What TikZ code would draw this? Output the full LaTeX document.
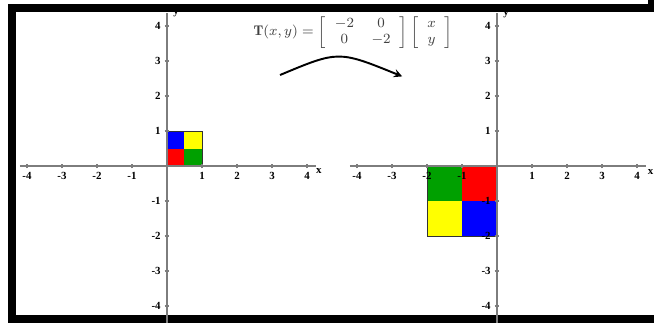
\documentclass[tikz,border=0pt]{standalone}
\usepackage{fontspec}
\newfontfamily\tickfont{Liberation Serif}
\definecolor{sqred}{RGB}{255,0,0}
\definecolor{sqgreen}{RGB}{0,160,0}
\definecolor{sqblue}{RGB}{0,0,255}
\definecolor{sqyellow}{RGB}{255,255,0}
\definecolor{axisgray}{RGB}{125,125,125}
\tikzset{
  axisline/.style={draw=axisgray, line width=0.6pt},
  ticklbl/.style={font=\tickfont\bfseries\fontsize{6.2}{7}\selectfont, inner sep=1pt},
  cellbox/.style={draw=black!80, line width=0.5pt},
}
\begin{document}
\begin{tikzpicture}[x=0.7cm, y=0.7cm, >=stealth]
  \useasboundingbox (-4.771,-4.457) rectangle (13.914,4.743);
  \clip (-4.771,-4.457) rectangle (13.914,4.743);
  % 外框
  \draw[line width=4.6pt, line join=miter] (14.5,4.526) -- (-4.4286,4.526) -- (-4.4286,-4.386) -- (14.5,-4.386);
  \fill (13.743,4.629) rectangle (14,4.8);

  % 原图：单位正方形
  \fill[sqred] (0,0) rectangle (0.5,0.5);
  \fill[sqgreen] (0.5,0) rectangle (1,0.5);
  \fill[sqblue] (0,0.5) rectangle (0.5,1);
  \fill[sqyellow] (0.5,0.5) rectangle (1,1);
  \draw[cellbox] (0,0) rectangle (1,1);

  \draw[axisline] (-4.2,0) -- (4.25,0);
  \draw[axisline] (0,4.37) -- (0,-4.6);
  \foreach \i in {-4,-3,-2,-1,1,2,3,4} {
    \draw[axisline] (\i,-0.07) -- (\i,0.07);
    \draw[axisline] (-0.07,\i) -- (0.07,\i);
    \node[ticklbl, anchor=north] (xl\i) at (\i,-0.12) {\i};
    \node[ticklbl, anchor=east] (yl\i) at (-0.12,\i) {\i};
  }
  \node[ticklbl, anchor=west] (xname) at (4.2,-0.14) {x};
  \node[ticklbl, anchor=west] (yname) at (0.12,4.36) {y};

  % 变换
  \node[text=black!75, font=\footnotesize] (formula) at (5.32,3.82)
    {$\mathbf{T}(x,y)=\left[\begin{array}{cc}-2&0\\0&-2\end{array}\right]\left[\begin{array}{c}x\\y\end{array}\right]$};
  \coordinate (arrS) at (3.23,2.6);
  \coordinate (arrE) at (6.72,2.56);
  \draw[->, line width=1.1pt] (arrS) .. controls (4.9,3.3) .. (arrE);

  % 像：缩放后的正方形
  \begin{scope}[shift={(9.4286,0)}]
    \fill[sqgreen] (-2,-1) rectangle (-1,0);
    \fill[sqred] (-1,-1) rectangle (0,0);
    \fill[sqyellow] (-2,-2) rectangle (-1,-1);
    \fill[sqblue] (-1,-2) rectangle (0,-1);
    \draw[cellbox] (-2,-2) rectangle (0,0);

    \draw[axisline] (-4.2,0) -- (4.25,0);
    \draw[axisline] (0,4.37) -- (0,-4.6);
    \foreach \i in {-4,-3,-2,-1,1,2,3,4} {
      \draw[axisline] (\i,-0.07) -- (\i,0.07);
      \draw[axisline] (-0.07,\i) -- (0.07,\i);
      \node[ticklbl, anchor=north] (rxl\i) at (\i,-0.12) {\i};
      \node[ticklbl, anchor=east] (ryl\i) at (-0.12,\i) {\i};
    }
    \node[ticklbl, anchor=west] (rxname) at (4.25,-0.14) {x'};
    \node[ticklbl, anchor=west] (ryname) at (0.12,4.36) {y'};
  \end{scope}
\end{tikzpicture}
\end{document}
